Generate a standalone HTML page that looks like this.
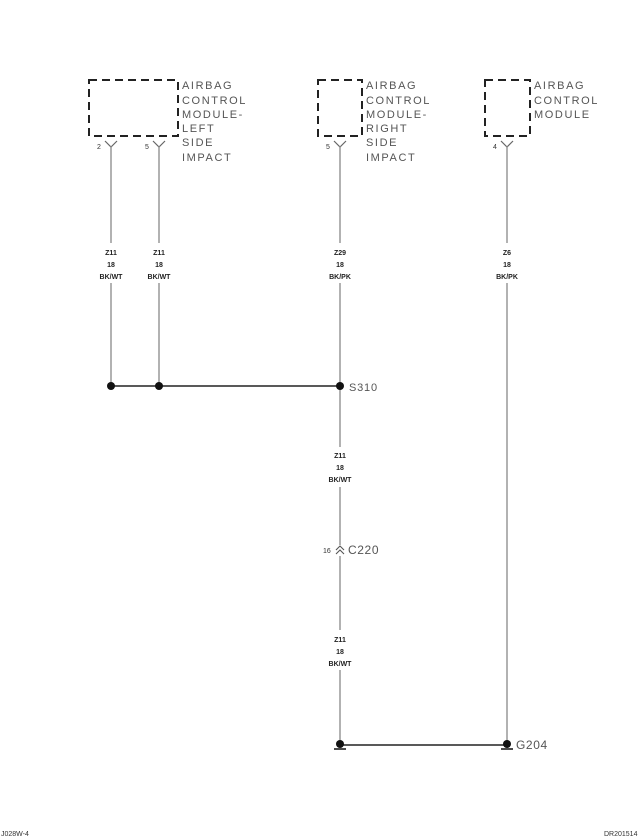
<!DOCTYPE html>
<html><head><meta charset="utf-8"><style>
html,body{margin:0;padding:0;background:#fff;}
svg{display:block;}
.t{font-family:"Liberation Sans",sans-serif;font-size:11px;fill:#555;letter-spacing:1.6px;}
.s{font-family:"Liberation Sans",sans-serif;font-size:7px;fill:#222;text-anchor:middle;font-weight:bold;}
.p{font-family:"Liberation Sans",sans-serif;font-size:7px;fill:#333;}
.w{stroke:#888;stroke-width:1.3;fill:none;}
.b{stroke:#222;stroke-width:2;fill:none;stroke-dasharray:8,5;}
</style></head><body>
<svg width="640" height="839" viewBox="0 0 640 839" xmlns="http://www.w3.org/2000/svg">
<rect class="b" x="89" y="80" width="89" height="56"/>
<rect class="b" x="318" y="80" width="44" height="56"/>
<rect class="b" x="485" y="80" width="45" height="56"/>
<g class="t">
<text x="182" y="89">AIRBAG</text><text x="182" y="104">CONTROL</text><text x="182" y="118">MODULE-</text><text x="182" y="132">LEFT</text><text x="182" y="146">SIDE</text><text x="182" y="161">IMPACT</text>
<text x="366" y="89">AIRBAG</text><text x="366" y="104">CONTROL</text><text x="366" y="118">MODULE-</text><text x="366" y="132">RIGHT</text><text x="366" y="146">SIDE</text><text x="366" y="161">IMPACT</text>
<text x="534" y="89">AIRBAG</text><text x="534" y="104">CONTROL</text><text x="534" y="118">MODULE</text>
</g>
<g stroke="#666" stroke-width="1.2" fill="none">
<path d="M105 141 L111 147 L117 141"/><path d="M153 141 L159 147 L165 141"/>
<path d="M334 141 L340 147 L346 141"/><path d="M501 141 L507 147 L513 141"/>
</g>
<g class="p"><text x="97" y="149">2</text><text x="145" y="149">5</text><text x="326" y="149">5</text><text x="493" y="149">4</text></g>
<path class="w" d="M111 146V243M111 283V386M159 146V243M159 283V386M340 146V243M340 283V447M340 487V545M340 556V630M340 670V745M507 146V243M507 283V745"/>
<g class="s">
<text x="111" y="255">Z11</text><text x="111" y="267">18</text><text x="111" y="279">BK/WT</text>
<text x="159" y="255">Z11</text><text x="159" y="267">18</text><text x="159" y="279">BK/WT</text>
<text x="340" y="255">Z29</text><text x="340" y="267">18</text><text x="340" y="279">BK/PK</text>
<text x="507" y="255">Z6</text><text x="507" y="267">18</text><text x="507" y="279">BK/PK</text>
<text x="340" y="458">Z11</text><text x="340" y="470">18</text><text x="340" y="482">BK/WT</text>
<text x="340" y="642">Z11</text><text x="340" y="654">18</text><text x="340" y="666">BK/WT</text>
</g>
<path d="M111 386H340" stroke="#222" stroke-width="1.5"/>
<circle cx="111" cy="386" r="4" fill="#111"/><circle cx="159" cy="386" r="4" fill="#111"/><circle cx="340" cy="386" r="4" fill="#111"/>
<text class="t" x="349" y="391" style="letter-spacing:0.8px">S310</text>
<g stroke="#555" stroke-width="1.1" fill="none"><path d="M336 550L340 546L344 550M336 554L340 550L344 554"/></g>
<text class="p" x="323" y="553">16</text>
<text class="t" x="348" y="554" style="font-size:12px;letter-spacing:0.6px">C220</text>
<path d="M340 745H507" stroke="#222" stroke-width="1.5"/>
<circle cx="340" cy="744" r="4" fill="#111"/><path d="M334 749H346" stroke="#111" stroke-width="1.5"/>
<circle cx="507" cy="744" r="4" fill="#111"/><path d="M501 749H513" stroke="#111" stroke-width="1.5"/>
<text class="t" x="516" y="749" style="font-size:12px;letter-spacing:0.6px">G204</text>
<text class="p" x="1" y="836">J028W-4</text>
<text class="p" x="604" y="836">DR201514</text>
</svg>
</body></html>
